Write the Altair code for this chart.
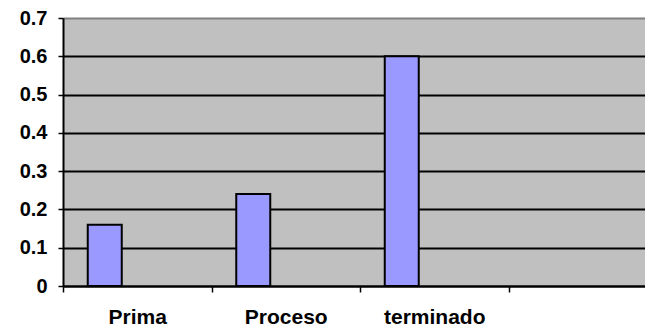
import altair as alt
import pandas as pd

categories = ["Prima", "Proceso", "terminado"]
values = [0.16, 0.24, 0.60]
x_domain = ["Prima", "Proceso", "terminado", " "]
y_ticks = [0, 0.1, 0.2, 0.3, 0.4, 0.5, 0.6, 0.7]

df = pd.DataFrame({"cat": categories, "val": values})

chart = alt.Chart(df).mark_bar(
    fill="#9999FF", stroke="black", strokeWidth=2, size=34, xOffset=-32.5
).encode(
    x=alt.X("cat:N", sort=None,
            scale=alt.Scale(domain=x_domain, range=[0, 594], paddingInner=0, paddingOuter=0),
            axis=alt.Axis(title=None, labelAngle=0, tickBand="extent", grid=False,
                          domainColor="black", domainWidth=2, tickColor="black", tickWidth=1.5,
                          tickSize=6, labelPadding=14, labelFont="Liberation Sans",
                          labelFontWeight="bold", labelFontSize=21, labelColor="black")),
    y=alt.Y("val:Q",
            scale=alt.Scale(domain=[0, 0.7], nice=False, zero=True),
            axis=alt.Axis(title=None, values=y_ticks, format="~g", grid=True,
                          gridColor={"condition": {"test": "datum.value >= 0.65", "value": "#808080"}, "value": "black"},
                          gridWidth=2, domainColor="black", domainWidth=2, tickColor="black",
                          tickWidth=1.5, tickSize=5, labelPadding=11, labelFont="Liberation Sans",
                          labelFontWeight="bold", labelFontSize=20, labelColor="black")),
).properties(
    width=582, height=268,
    padding={"left": 63, "top": 18, "right": 0, "bottom": 44},
    autosize=alt.AutoSizeParams(type="none"),
    background="white",
).configure_view(
    fill="#C0C0C0", stroke=None
)

chart.save("out.html", embed_options={"renderer": "svg", "actions": False})
